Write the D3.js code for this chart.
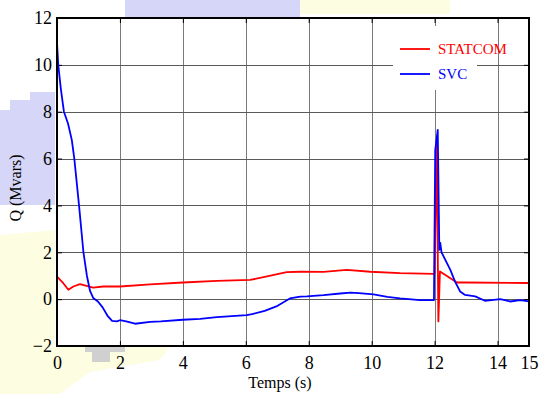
<!DOCTYPE html>
<html>
<head>
<meta charset="utf-8">
<script src="https://cdn.jsdelivr.net/npm/d3@7"></script>
<style>
    body { margin: 0; background: #fff; }
    svg text { font-family: "Liberation Serif", "Times New Roman", serif; }
</style>
</head>
<body>
<div id="chart"></div>
<script>
// data
const xTicks = [0, 2, 4, 6, 8, 10, 12, 14, 15];
const yTicks = [-2, 0, 2, 4, 6, 8, 10, 12];

const statcomT = [0, 0.2, 0.36, 0.52, 0.73, 0.94, 1.15, 1.47, 2.0, 2.96, 4.0, 5.08, 6.14, 6.6, 7.3, 7.73, 8.47, 9.21, 9.96, 10.9, 11.98, 12.0, 12.07, 12.12, 12.17, 12.71, 13.0, 15];
const statcomQ = [0.96, 0.68, 0.40, 0.54, 0.64, 0.57, 0.49, 0.54, 0.54, 0.63, 0.71, 0.78, 0.82, 0.95, 1.15, 1.17, 1.16, 1.25, 1.17, 1.11, 1.08, 1.08, 6.72, -0.95, 1.18, 0.71, 0.71, 0.69];

const svcT = [0, 0, 0.04, 0.12, 0.22, 0.35, 0.47, 0.55, 0.70, 0.84, 0.95, 1.05, 1.15, 1.3, 1.45, 1.6, 1.75, 1.9, 2.0, 2.2, 2.48, 2.96, 3.3, 4.0, 4.55, 5.08, 6.03, 6.2, 6.6, 6.97, 7.4, 7.73, 7.94, 8.47, 9.0, 9.32, 9.6, 10.06, 10.5, 10.9, 11.54, 11.98, 12.02, 12.06, 12.1, 12.15, 12.18, 12.22, 12.5, 12.65, 12.81, 12.97, 13.29, 13.6, 14.09, 14.4, 14.72, 15];
const svcQ = [0, 10.94, 10.0, 9.0, 8.0, 7.5, 6.8, 6.0, 4.0, 2.0, 1.0, 0.35, 0.05, -0.1, -0.35, -0.7, -0.93, -0.95, -0.90, -0.95, -1.05, -0.97, -0.95, -0.88, -0.84, -0.77, -0.68, -0.64, -0.5, -0.31, 0.03, 0.11, 0.12, 0.17, 0.24, 0.28, 0.26, 0.2, 0.1, 0.03, -0.04, -0.04, 6.36, 6.8, 7.22, 2.1, 2.4, 2.0, 1.25, 0.75, 0.33, 0.18, 0.12, -0.07, 0, -0.1, -0.04, -0.1];

const seriesNames = ["STATCOM", "SVC"];
const seriesColors = ["#ff0000", "#0000ff"];

const W = 544, H = 394;
const margin = {top: 18, right: 15, bottom: 48, left: 57};
const width = W - margin.left - margin.right;
const height = H - margin.top - margin.bottom;
const serif = "'Liberation Serif', 'Times New Roman', serif";

const svg = d3.select("#chart").append("svg")
    .attr("width", W)
    .attr("height", H);

// pale background blotches of the scanned figure
const blobs = [
    {c: "#d6d6f8", p: [[125, 0], [300, 0], [300, 17], [125, 17]]},
    {c: "#fdfde2", p: [[300, 0], [450, 0], [450, 14], [300, 14]]},
    {c: "#d6d6f8", p: [[0, 110], [10, 110], [10, 100], [30, 100], [30, 92], [55, 92], [55, 205], [0, 205]]},
    {c: "#fdfde2", p: [[0, 235], [55, 230], [55, 346], [170, 346], [160, 360], [90, 372], [60, 394], [0, 394]]},
    {c: "#d0d0d0", p: [[85, 346], [125, 346], [125, 352], [110, 352], [110, 362], [92, 362], [92, 352], [85, 352]]}
];
svg.selectAll(".blob")
    .data(blobs)
    .enter().append("path")
    .attr("class", "blob")
    .attr("fill", d => d.c)
    .attr("d", d => "M" + d.p.join("L") + "Z");

const g = svg.append("g")
    .attr("transform", `translate(${margin.left},${margin.top})`);

const x = d3.scaleLinear().domain([0, 15]).range([0, width]);
const y = d3.scaleLinear().domain([-2, 12]).range([height, 0]);

g.append("rect")
    .attr("width", width)
    .attr("height", height)
    .attr("fill", "#fff");

// grid
g.append("g")
    .selectAll("line")
    .data(xTicks.filter(d => d > 0 && d < 15))
    .enter().append("line")
    .attr("x1", d => Math.round(x(d)) + 0.5)
    .attr("x2", d => Math.round(x(d)) + 0.5)
    .attr("y1", 0)
    .attr("y2", height)
    .attr("stroke", "#7a7a7a")
    .attr("stroke-width", 1);

g.append("g")
    .selectAll("line")
    .data(yTicks.filter(d => d > -2 && d < 12))
    .enter().append("line")
    .attr("y1", d => Math.round(y(d)) + 0.5)
    .attr("y2", d => Math.round(y(d)) + 0.5)
    .attr("x1", 0)
    .attr("x2", width)
    .attr("stroke", "#5a5a5a")
    .attr("stroke-width", 1);

// legend backing hides the grid
g.append("rect")
    .attr("x", 393 - margin.left)
    .attr("y", 26 - margin.top)
    .attr("width", 84)
    .attr("height", 64)
    .attr("fill", "#fff");

// axes with inside ticks
const bottomAxis = g.append("g")
    .attr("transform", `translate(0,${height})`)
    .call(d3.axisBottom(x).tickValues(xTicks).tickSizeInner(-5).tickSizeOuter(0).tickPadding(10));
const leftAxis = g.append("g")
    .call(d3.axisLeft(y).tickValues(yTicks).tickSizeInner(-5).tickSizeOuter(0).tickPadding(8));
g.append("g")
    .call(d3.axisTop(x).tickValues(xTicks).tickSizeInner(-5).tickSizeOuter(0).tickFormat(""));
g.append("g")
    .attr("transform", `translate(${width},0)`)
    .call(d3.axisRight(y).tickValues(yTicks).tickSizeInner(-5).tickSizeOuter(0).tickFormat(""));

g.selectAll(".domain").remove();
g.selectAll(".tick line").attr("stroke", "#000");
[bottomAxis, leftAxis].forEach(a => a.attr("font-family", serif)
    .selectAll("text")
    .style("font-family", serif)
    .style("font-size", "18px")
    .attr("fill", "#000"));
leftAxis.selectAll("text").attr("dx", "3px");

// series
const line = d3.line()
    .x(d => x(d[0]))
    .y(d => y(d[1]));

const series = [
    d3.zip(statcomT, statcomQ),
    d3.zip(svcT, svcQ)
];

g.selectAll(".series")
    .data(series)
    .enter().append("path")
    .attr("class", "series")
    .attr("fill", "none")
    .attr("stroke", (d, i) => seriesColors[i])
    .attr("stroke-width", 1.8)
    .attr("stroke-linejoin", "round")
    .attr("d", line);

// frame
g.append("rect")
    .attr("width", width)
    .attr("height", height)
    .attr("fill", "none")
    .attr("stroke", "#000")
    .attr("stroke-width", 2);

// legend
const legend = g.append("g")
    .attr("transform", `translate(${400 - margin.left},${49 - margin.top})`);
seriesNames.forEach((name, i) => {
    legend.append("line")
        .attr("x1", 0).attr("x2", 30)
        .attr("y1", i * 25).attr("y2", i * 25)
        .attr("stroke", seriesColors[i])
        .attr("stroke-width", 1.8);
    legend.append("text")
        .attr("x", 38)
        .attr("y", i * 25 + 5)
        .attr("fill", seriesColors[i])
        .style("font-size", "15px")
        .text(name);
});

// axis titles
svg.append("text")
    .attr("x", 280)
    .attr("y", 388)
    .attr("text-anchor", "middle")
    .style("font-size", "16px")
    .text("Temps (s)");

svg.append("text")
    .attr("transform", "translate(21,188) rotate(-90)")
    .attr("text-anchor", "middle")
    .style("font-size", "16px")
    .text("Q (Mvars)");
</script>
</body>
</html>
